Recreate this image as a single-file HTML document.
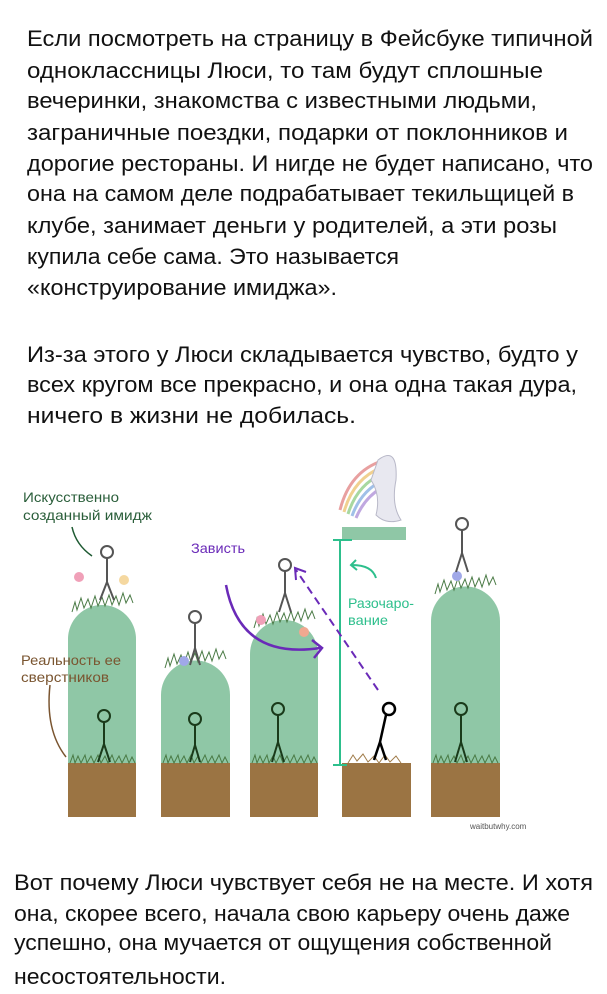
<!DOCTYPE html>
<html><head><meta charset="utf-8"><style>
html,body{margin:0;padding:0;background:#fff;width:607px;height:994px;overflow:hidden}
svg{display:block}
.t{font-family:"Liberation Sans","DejaVu Sans",sans-serif;font-size:22px;fill:#111}
.l{font-family:"Liberation Sans","DejaVu Sans",sans-serif;font-size:14px}
</style></head><body>
<svg width="607" height="994" viewBox="0 0 607 994" xmlns="http://www.w3.org/2000/svg">
<g class="t">
<text x="27" y="46" textLength="566" lengthAdjust="spacingAndGlyphs">Если посмотреть на страницу в Фейсбуке типичной</text>
<text x="27" y="78" textLength="516" lengthAdjust="spacingAndGlyphs">одноклассницы Люси, то там будут сплошные</text>
<text x="27" y="108" textLength="510" lengthAdjust="spacingAndGlyphs">вечеринки, знакомства с известными людьми,</text>
<text x="27" y="140" textLength="541" lengthAdjust="spacingAndGlyphs">заграничные поездки, подарки от поклонников и</text>
<text x="27" y="171" textLength="566" lengthAdjust="spacingAndGlyphs">дорогие рестораны. И нигде не будет написано, что</text>
<text x="27" y="201" textLength="547" lengthAdjust="spacingAndGlyphs">она на самом деле подрабатывает текильщицей в</text>
<text x="27" y="233" textLength="530" lengthAdjust="spacingAndGlyphs">клубе, занимает деньги у родителей, а эти розы</text>
<text x="27" y="264" textLength="372" lengthAdjust="spacingAndGlyphs">купила себе сама. Это называется</text>
<text x="27" y="295" textLength="310" lengthAdjust="spacingAndGlyphs">«конструирование имиджа».</text>
<text x="27" y="362" textLength="551" lengthAdjust="spacingAndGlyphs">Из-за этого у Люси складывается чувство, будто у</text>
<text x="27" y="392" textLength="550" lengthAdjust="spacingAndGlyphs">всех кругом все прекрасно, и она одна такая дура,</text>
<text x="27" y="423" textLength="329" lengthAdjust="spacingAndGlyphs">ничего в жизни не добилась.</text>
<text x="14" y="890" textLength="579" lengthAdjust="spacingAndGlyphs">Вот почему Люси чувствует себя не на месте. И хотя</text>
<text x="14" y="921" textLength="556" lengthAdjust="spacingAndGlyphs">она, скорее всего, начала свою карьеру очень даже</text>
<text x="14" y="950" textLength="538" lengthAdjust="spacingAndGlyphs">успешно, она мучается от ощущения собственной</text>
<text x="14" y="984" textLength="212" lengthAdjust="spacingAndGlyphs">несостоятельности.</text>
</g>
<g fill="#8fc7a6">
<path d="M68 763 V639 A34 34 0 0 1 136 639 V763 Z"/>
<path d="M161 763 V695 A34.5 34.5 0 0 1 230 695 V763 Z"/>
<path d="M250 763 V654 A34 34 0 0 1 318 654 V763 Z"/>
<path d="M431 763 V621 A34.5 34.5 0 0 1 500 621 V763 Z"/>
<rect x="342" y="527" width="64" height="13"/>
</g>
<g fill="#9b7443">
<rect x="68" y="763" width="68" height="54"/>
<rect x="161" y="763" width="69" height="54"/>
<rect x="250" y="763" width="68" height="54"/>
<rect x="342" y="763" width="69" height="54"/>
<rect x="431" y="763" width="69" height="54"/>
</g>
<g stroke="#4a7a45" stroke-width="1" fill="none">
<path d="M70 763 l3 -8 l2 8 l3 -7 l3 7 l4 -8 l2 8 l4 -7 l3 7 l4 -8 l3 8 l4 -7 l3 7 l4 -8 l3 8 l4 -7 l3 7 l4 -8 l3 8 l3 -6 l3 6"/>
<path d="M163 763 l3 -8 l2 8 l3 -7 l3 7 l4 -8 l2 8 l4 -7 l3 7 l4 -8 l3 8 l4 -7 l3 7 l4 -8 l3 8 l4 -7 l3 7 l4 -8 l3 8 l3 -6 l3 6"/>
<path d="M252 763 l3 -8 l2 8 l3 -7 l3 7 l4 -8 l2 8 l4 -7 l3 7 l4 -8 l3 8 l4 -7 l3 7 l4 -8 l3 8 l4 -7 l3 7 l4 -8 l3 8 l3 -6 l3 6"/>
<path d="M433 763 l3 -8 l2 8 l3 -7 l3 7 l4 -8 l2 8 l4 -7 l3 7 l4 -8 l3 8 l4 -7 l3 7 l4 -8 l3 8 l4 -7 l3 7 l4 -8 l3 8 l3 -6 l3 6"/>
<path d="M72 612 l3 -10 l2 8 l4 -12 l3 10 l4 -9 l3 9 l4 -12 l3 10 l4 -9 l3 9 l4 -11 l3 10 l4 -9 l3 9 l4 -12 l3 10 l4 -8 l3 8"/>
<path d="M165 668 l3 -10 l2 8 l4 -12 l3 10 l4 -9 l3 9 l4 -12 l3 10 l4 -9 l3 9 l4 -11 l3 10 l4 -9 l3 9 l4 -12 l3 10 l4 -8 l3 8"/>
<path d="M254 628 l3 -10 l2 8 l4 -12 l3 10 l4 -9 l3 9 l4 -12 l3 10 l4 -9 l3 9 l4 -11 l3 10 l4 -9 l3 9 l4 -12 l3 10 l4 -8 l3 8"/>
<path d="M435 594 l3 -10 l2 8 l4 -12 l3 10 l4 -9 l3 9 l4 -12 l3 10 l4 -9 l3 9 l4 -11 l3 10 l4 -9 l3 9 l4 -12 l3 10 l4 -8 l3 8"/>
</g>
<path d="M348 763 l5 -8 l4 6 l6 -7 l5 8 l6 -6 l5 7 l6 -8 l5 7 l6 -6 l5 7" stroke="#a07c4a" fill="none"/>
<g>
<circle cx="79" cy="577" r="5" fill="#f0a0b8"/><circle cx="124" cy="580" r="5" fill="#f5d8a0"/>
<circle cx="184" cy="661" r="5" fill="#a0a8e8"/>
<circle cx="261" cy="620" r="5" fill="#f0a0b8"/><circle cx="304" cy="632" r="5" fill="#f0a890"/>
<circle cx="457" cy="576" r="5" fill="#a0a8e8"/>
</g>
<g stroke="#555" stroke-width="2" fill="none">
<circle cx="107" cy="552" r="6"/><path d="M107 558 V582 M107 582 L100 600 M107 582 L114 600"/>
<circle cx="195" cy="617" r="6"/><path d="M195 623 V648 M195 648 L190 665 M195 648 L200 665"/>
<circle cx="285" cy="565" r="6"/><path d="M285 571 V593 M285 593 L279 612 M285 593 L291 612"/>
<circle cx="462" cy="524" r="6"/><path d="M462 530 V553 M462 553 L456 572 M462 553 L468 572"/>
</g>
<g stroke="#1a3a1a" stroke-width="2" fill="none">
<circle cx="104" cy="716" r="6"/><path d="M104 722 V744 M104 744 L98 762 M104 744 L110 762"/>
<circle cx="195" cy="719" r="6"/><path d="M195 725 V745 M195 745 L190 762 M195 745 L200 762"/>
<circle cx="278" cy="709" r="6"/><path d="M278 715 V742 M278 742 L272 762 M278 742 L284 762"/>
<circle cx="461" cy="709" r="6"/><path d="M461 715 V742 M461 742 L455 762 M461 742 L467 762"/>
</g>
<g stroke="#000" stroke-width="2.5" fill="none">
<circle cx="389" cy="709" r="6"/><path d="M386 715 L380 742 L374 760 M380 742 L386 760"/>
</g>
<g fill="none" stroke-width="3">
<path d="M340 510 Q350 470 385 460" stroke="#e8a0a0"/>
<path d="M344 512 Q354 476 386 466" stroke="#f0d090"/>
<path d="M348 514 Q358 482 387 472" stroke="#a8d8a0"/>
<path d="M352 516 Q362 488 388 478" stroke="#a0c0e8"/>
<path d="M356 518 Q366 494 389 484" stroke="#c0a8e0"/>
</g>
<path d="M378 460 q20 -15 18 20 q-5 25 5 40 q-15 5 -25 -5 q5 -20 -5 -35 z" fill="#e8e8f0" stroke="#b8b8c8"/>
<g stroke="#2dbf8c" stroke-width="2" fill="none">
<path d="M340 540 V765 M333 540 H352 M333 765 H347"/>
<path d="M376 578 Q372 565 352 565 M356 560 L351 565 L357 570"/>
</g>
<path d="M226 585 Q240 660 320 648" stroke="#6a2ab8" stroke-width="2.5" fill="none"/>
<path d="M312 640 L322 648 L314 658" stroke="#6a2ab8" stroke-width="2.5" fill="none"/>
<path d="M378 690 L296 570" stroke="#6a2ab8" stroke-width="2" stroke-dasharray="8 5" fill="none"/>
<path d="M296 580 L295 568 L306 572" stroke="#6a2ab8" stroke-width="2" fill="none"/>
<path d="M72 527 Q76 545 92 556" stroke="#1e5a32" stroke-width="1.5" fill="none"/>
<path d="M50 685 Q45 730 66 757" stroke="#7a5530" stroke-width="1.5" fill="none"/>
<g class="l">
<text x="23" y="502" fill="#2a5e3a" textLength="96" lengthAdjust="spacingAndGlyphs">Искусственно</text>
<text x="23" y="520" fill="#2a5e3a" textLength="129" lengthAdjust="spacingAndGlyphs">созданный имидж</text>
<text x="191" y="553" fill="#6a2ab8" textLength="54" lengthAdjust="spacingAndGlyphs">Зависть</text>
<text x="348" y="608" fill="#2dbf8c" textLength="66" lengthAdjust="spacingAndGlyphs">Разочаро-</text>
<text x="348" y="625" fill="#2dbf8c" textLength="40" lengthAdjust="spacingAndGlyphs">вание</text>
<text x="21" y="665" fill="#7a5530" textLength="100" lengthAdjust="spacingAndGlyphs">Реальность ее</text>
<text x="21" y="682" fill="#7a5530" textLength="88" lengthAdjust="spacingAndGlyphs">сверстников</text>
<text x="470" y="829" fill="#555" style="font-size:8px">waitbutwhy.com</text>
</g>
</svg>
</body></html>
